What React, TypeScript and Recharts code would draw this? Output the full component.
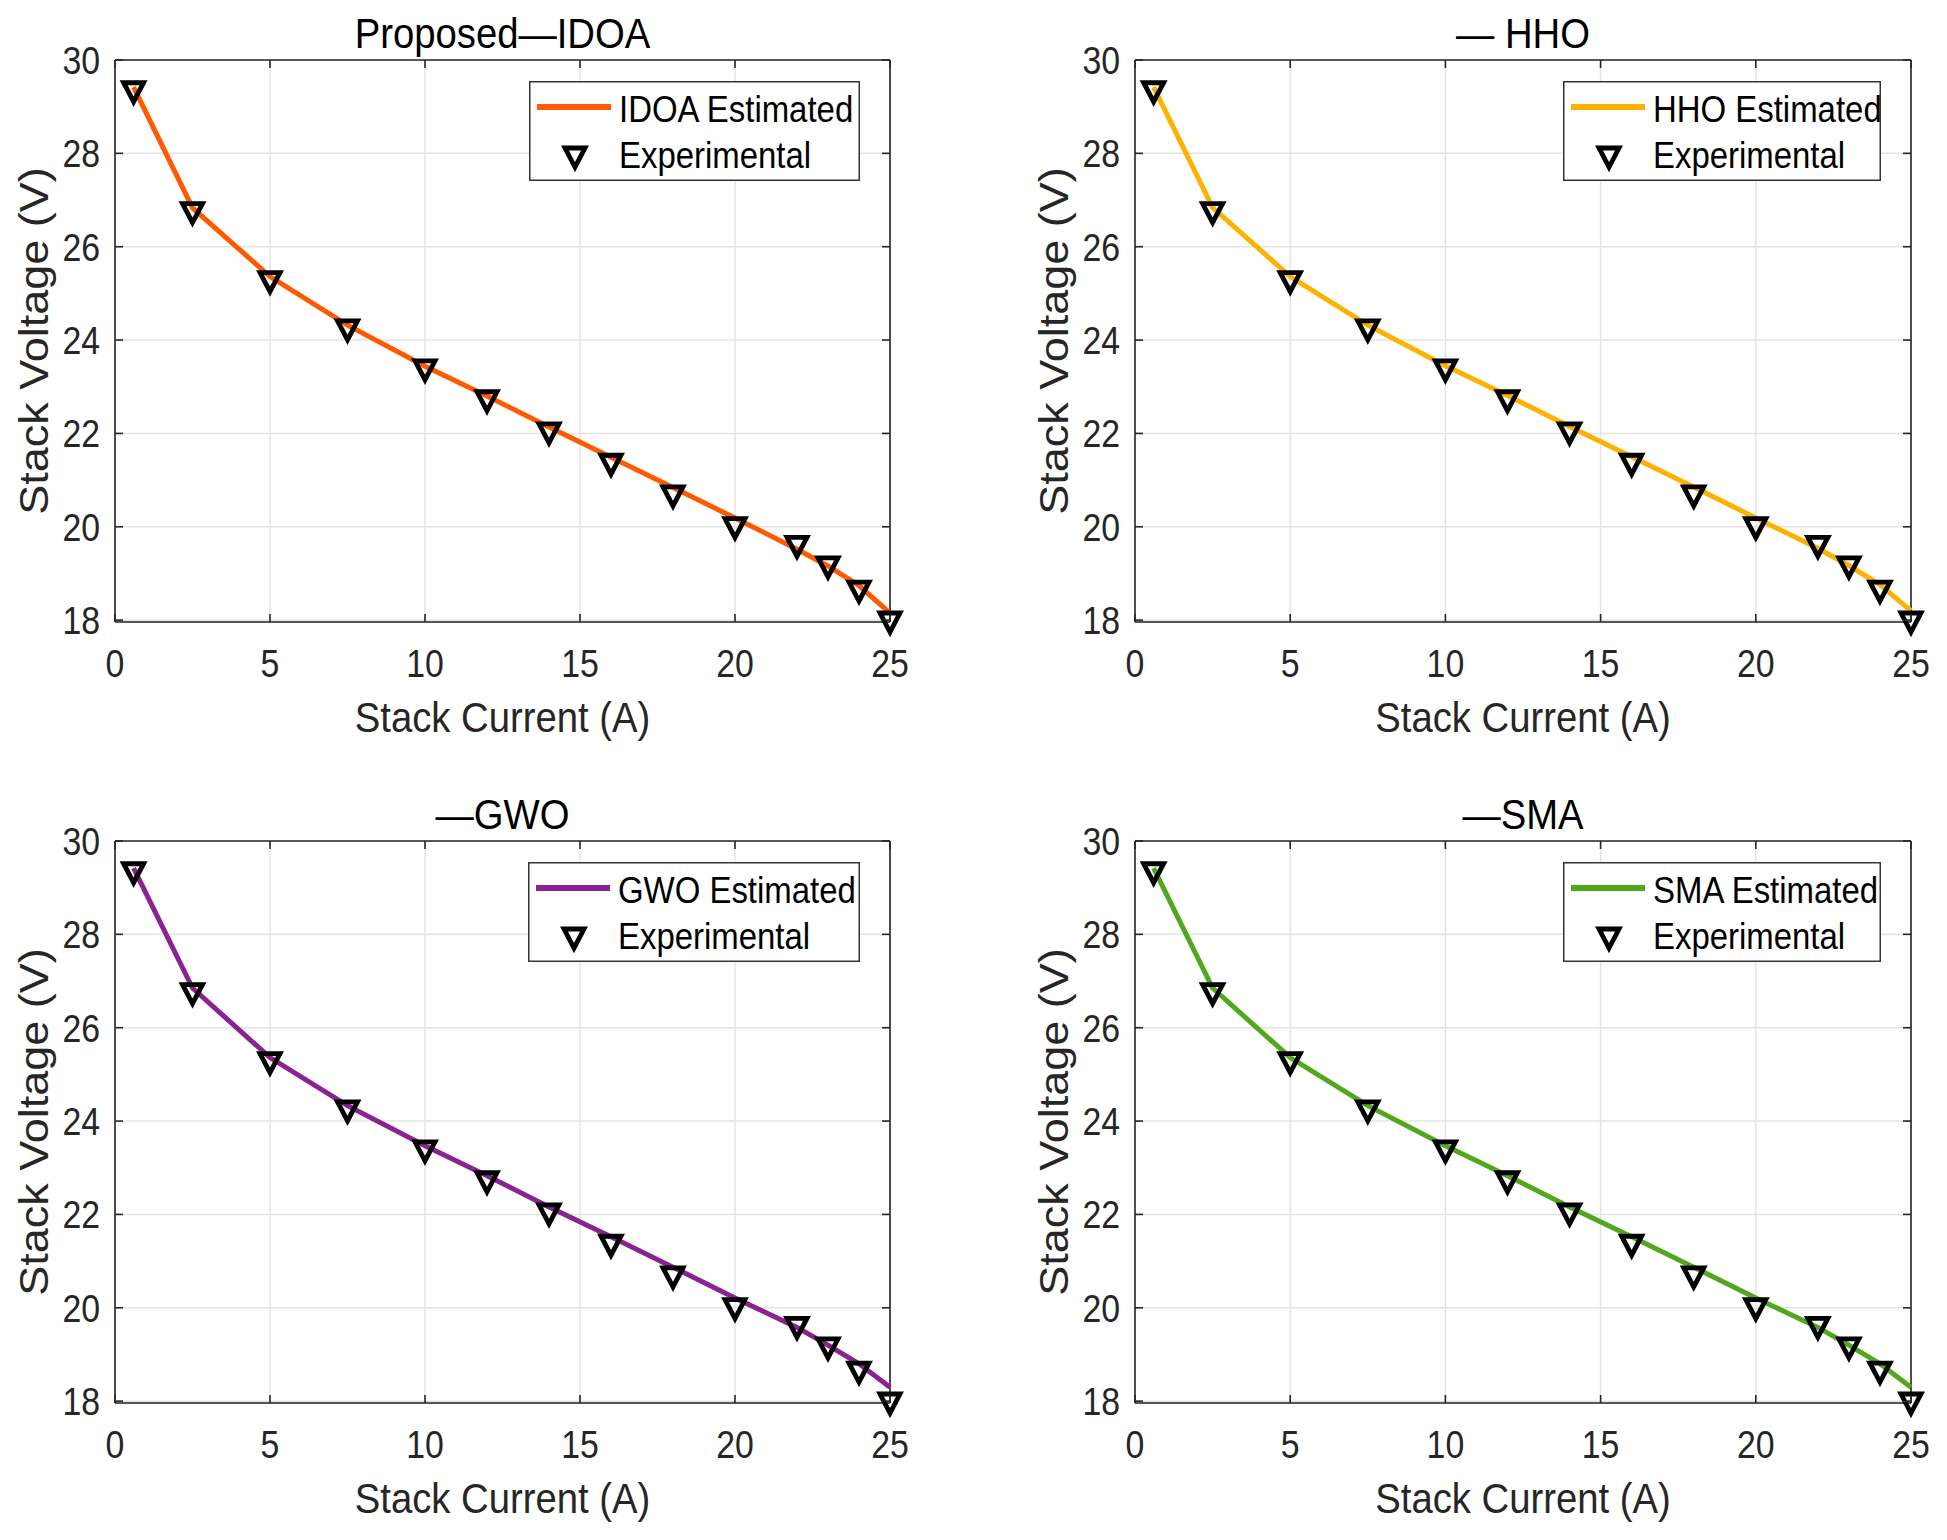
import {
  ComposedChart,
  Line,
  Scatter,
  XAxis,
  YAxis,
  CartesianGrid,
  ReferenceLine,
  Legend,
} from 'recharts';

// Stack current (A) of the measured points
const CURRENT = [0.6, 2.5, 5, 7.5, 10, 12, 14, 16, 18, 20, 22, 23, 24, 25];
// Measured stack voltage (V)
const EXPERIMENTAL = [29.32, 26.73, 25.25, 24.22, 23.36, 22.7, 22.01, 21.34, 20.66, 19.98, 19.58, 19.14, 18.62, 17.96];
// Estimated voltage from each optimiser
const IDOA_EST = [29.42, 26.83, 25.36, 24.32, 23.44, 22.8, 22.14, 21.49, 20.84, 20.19, 19.52, 19.16, 18.74, 18.15];
const HHO_EST = [29.42, 26.84, 25.36, 24.32, 23.45, 22.81, 22.15, 21.5, 20.85, 20.19, 19.54, 19.17, 18.76, 18.2];
const GWO_EST = [29.42, 26.85, 25.36, 24.33, 23.47, 22.83, 22.16, 21.52, 20.87, 20.21, 19.58, 19.2, 18.8, 18.3];
const SMA_EST = [29.42, 26.85, 25.36, 24.33, 23.47, 22.83, 22.16, 21.52, 20.87, 20.21, 19.58, 19.2, 18.8, 18.3];

const X_TICKS = [0, 5, 10, 15, 20, 25];
const Y_TICKS = [18, 20, 22, 24, 26, 28, 30];

const FONT = '"Liberation Sans", Arial, Helvetica, sans-serif';
const SQUEEZE = 0.89; // the figure is slightly compressed horizontally
const AXIS = '#262626';
const TICK_LEN = 8;

const PANEL_W = 973;
const PANEL_H = 770;

const toRows = (ys: number[]) => CURRENT.map((i, k) => ({ i, v: ys[k] }));
const expRows = toRows(EXPERIMENTAL);

const panels = [
  { title: 'Proposed\u2014IDOA', name: 'IDOA Estimated', est: IDOA_EST, color: '#FF5A00', col: 0, row: 0, legendW: 331 },
  { title: '\u2014 HHO', name: 'HHO Estimated', est: HHO_EST, color: '#FFB100', col: 1, row: 0, legendW: 318 },
  { title: '\u2014GWO', name: 'GWO Estimated', est: GWO_EST, color: '#8A2391', col: 0, row: 1, legendW: 332 },
  { title: '\u2014SMA', name: 'SMA Estimated', est: SMA_EST, color: '#52A81C', col: 1, row: 1, legendW: 318 },
];

function SqText({ x, y, size, anchor = 'start', fill = AXIS, children }: any) {
  return (
    <text
      transform={`translate(${x},${y}) scale(${SQUEEZE},1)`}
      fontSize={size}
      fontFamily={FONT}
      textAnchor={anchor}
      fill={fill}
    >
      {children}
    </text>
  );
}

function triPath(cx: number, cy: number) {
  return `M${cx - 10},${cy - 9}L${cx + 10},${cy - 9}L${cx},${cy + 10}Z`;
}

function Tri(props: any) {
  const { cx, cy } = props;
  if (cx == null || cy == null) return null;
  return <path d={triPath(cx, cy)} fill="none" stroke="#000" strokeWidth={4.8} strokeLinejoin="miter" />;
}

function XTick(props: any) {
  const { x, y, payload, top } = props;
  return (
    <g>
      <line x1={x} x2={x} y1={y} y2={y - TICK_LEN} stroke={AXIS} strokeWidth={1.6} />
      <line x1={x} x2={x} y1={top} y2={top + TICK_LEN} stroke={AXIS} strokeWidth={1.6} />
      <SqText x={x} y={y + 55} size={38} anchor="middle">
        {payload.value}
      </SqText>
    </g>
  );
}

function YTick(props: any) {
  const { x, y, payload, right } = props;
  return (
    <g>
      <line x1={x} x2={x + TICK_LEN} y1={y} y2={y} stroke={AXIS} strokeWidth={1.6} />
      <line x1={right} x2={right - TICK_LEN} y1={y} y2={y} stroke={AXIS} strokeWidth={1.6} />
      <SqText x={x - 15} y={y + 14} size={38} anchor="end">
        {payload.value}
      </SqText>
    </g>
  );
}

function XLabel(props: any) {
  const { x, y, width } = props.viewBox;
  return (
    <SqText x={x + width / 2} y={y + 110} size={43} anchor="middle">
      Stack Current (A)
    </SqText>
  );
}

function YLabel(props: any) {
  const { x, y, width, height } = props.viewBox;
  const bx = x + width - 67;
  const cy = y + height / 2;
  return (
    <text
      transform={`translate(${bx},${cy}) scale(${SQUEEZE},1) rotate(-90)`}
      fontSize={45}
      fontFamily={FONT}
      textAnchor="middle"
      fill={AXIS}
    >
      Stack Voltage (V)
    </text>
  );
}

function Title(props: any) {
  const { x, y, width } = props.viewBox;
  return (
    <SqText x={x + width / 2} y={y - 12} size={43} anchor="middle" fill="#000">
      {props.text}
    </SqText>
  );
}

function LegendBox({ name, color, width }: any) {
  return (
    <svg width={width} height={100} style={{ display: 'block' }}>
      <rect x={0.75} y={0.75} width={width - 1.5} height={98.5} fill="#fff" stroke="#333" strokeWidth={1.5} />
      <line x1={8} x2={82} y1={26} y2={26} stroke={color} strokeWidth={6} />
      <SqText x={90} y={41} size={37} fill="#000">
        {name}
      </SqText>
      <path d={triPath(46, 76)} fill="none" stroke="#000" strokeWidth={4.8} strokeLinejoin="miter" />
      <SqText x={90} y={87} size={37} fill="#000">
        Experimental
      </SqText>
    </svg>
  );
}

function Panel({ p }: any) {
  const plotLeft = p.col ? 162 : 115;
  const plotRight = p.col ? 938 : 890;
  const plotTop = p.row ? 71 : 60;
  const plotBottom = p.row ? 633 : 622;
  const yW = 60;
  const xH = 60;
  const margin = {
    left: plotLeft - yW,
    right: PANEL_W - plotRight,
    top: plotTop,
    bottom: PANEL_H - plotBottom - xH,
  };
  const estRows = toRows(p.est);
  return (
    <div style={{ position: 'absolute', left: p.col * PANEL_W, top: p.row * PANEL_H }}>
      <ComposedChart width={PANEL_W} height={PANEL_H} margin={margin}>
        <CartesianGrid stroke="#e4e4e4" strokeWidth={1.5} />
        <XAxis
          type="number"
          dataKey="i"
          domain={[0, 25]}
          ticks={X_TICKS}
          interval={0}
          height={xH}
          tickSize={0}
          tickMargin={0}
          tickLine={false}
          axisLine={{ stroke: AXIS, strokeWidth: 1.6 }}
          tick={<XTick top={plotTop} />}
          label={<XLabel />}
        />
        <YAxis
          type="number"
          domain={[18, 30]}
          ticks={Y_TICKS}
          interval={0}
          width={yW}
          tickSize={0}
          tickMargin={0}
          tickLine={false}
          axisLine={{ stroke: AXIS, strokeWidth: 1.6 }}
          tick={<YTick right={plotRight} />}
          label={<YLabel />}
        />
        <ReferenceLine y={30} stroke={AXIS} strokeWidth={1.6} label={<Title text={p.title} />} />
        <ReferenceLine x={25} stroke={AXIS} strokeWidth={1.6} />
        <Legend
          layout="vertical"
          align="center"
          verticalAlign="middle"
          wrapperStyle={{ left: plotRight - 30 - p.legendW, top: plotTop + 21, width: p.legendW, height: 100 }}
          content={() => <LegendBox name={p.name} color={p.color} width={p.legendW} />}
        />
        <Line
          data={estRows}
          dataKey="v"
          name={p.name}
          type="linear"
          stroke={p.color}
          strokeWidth={5}
          dot={false}
          activeDot={false}
          isAnimationActive={false}
        />
        <Scatter data={expRows} dataKey="v" name="Experimental" shape={<Tri />} isAnimationActive={false} />
      </ComposedChart>
    </div>
  );
}

export default function App() {
  return (
    <div
      style={{
        position: 'absolute',
        left: 0,
        top: 0,
        width: 1947,
        height: 1540,
        background: '#fff',
        overflow: 'hidden',
      }}
    >
      {panels.map((p) => (
        <Panel key={p.title} p={p} />
      ))}
    </div>
  );
}
